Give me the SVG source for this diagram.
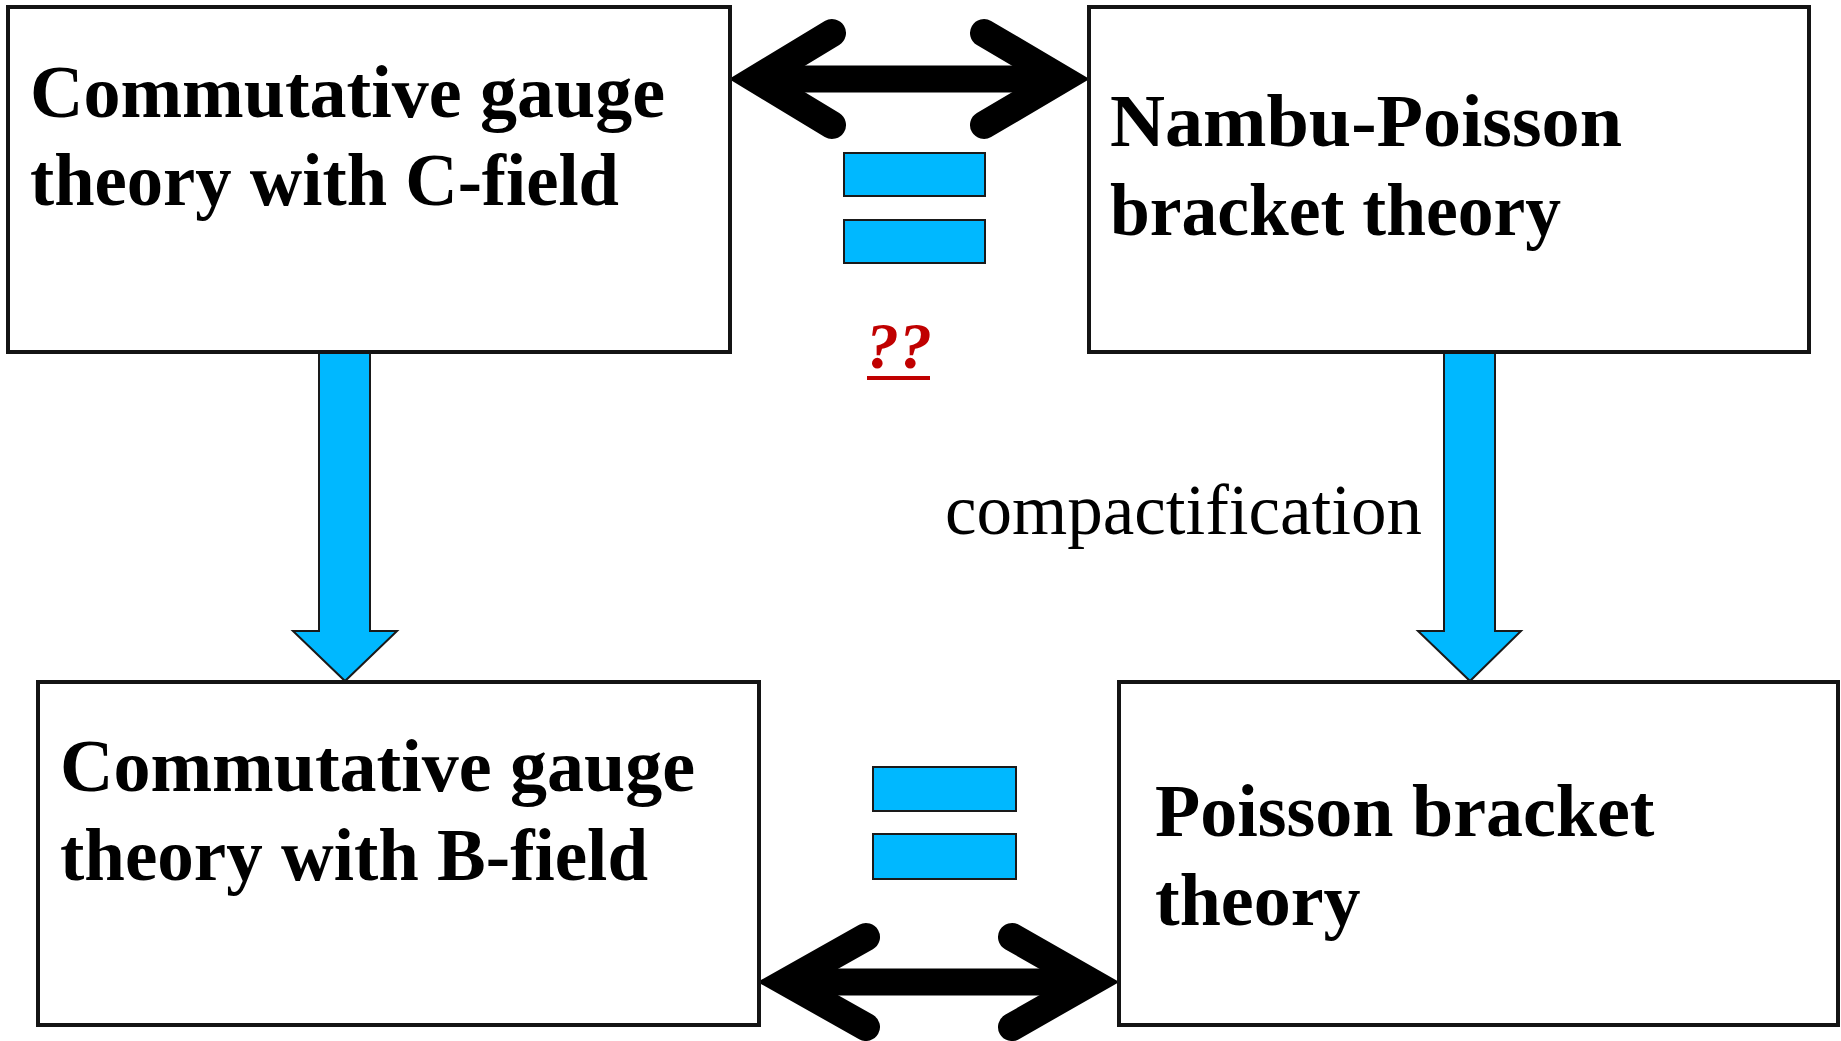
<svg xmlns="http://www.w3.org/2000/svg" width="1841" height="1041" viewBox="0 0 1841 1041">
  <style>
    .box { fill: #ffffff; stroke: #141414; stroke-width: 4; }
    .title { font-family: "Liberation Serif", "Times New Roman", serif; font-weight: bold; font-size: 74px; fill: #000000; }
    .label { font-family: "Liberation Serif", "Times New Roman", serif; font-size: 71px; fill: #000000; }
    .q { font-family: "Liberation Serif", "Times New Roman", serif; font-weight: bold; font-style: italic; font-size: 66px; fill: #C00000; }
    .blue { fill: #00B8FF; stroke: #1a1a1a; stroke-width: 2; stroke-linejoin: miter; }
    .shaft { stroke: #000000; stroke-width: 27; fill: none; }
    .chev { stroke: #000000; stroke-width: 28; fill: none; stroke-linecap: round; stroke-linejoin: miter; stroke-miterlimit: 10; }
  </style>

  <rect width="1841" height="1041" fill="#ffffff"/>

  <g id="connectors">
    <!-- top double arrow -->
    <g id="arrow-top">
      <line class="shaft" x1="756" y1="79" x2="1062" y2="79"/>
      <polyline class="chev" points="832,33 756,79 832,125"/>
      <polyline class="chev" points="984,33 1062,79 984,125"/>
    </g>
    <!-- bottom double arrow -->
    <g id="arrow-bottom">
      <line class="shaft" x1="786" y1="982" x2="1091" y2="982"/>
      <polyline class="chev" points="866,937 786,982 866,1027"/>
      <polyline class="chev" points="1012,937 1091,982 1012,1027"/>
    </g>
    <!-- blue block arrows -->
    <polygon id="arrow-left-down" class="blue" points="319,352 370,352 370,631 397,631 345,681 293,631 319,631"/>
    <polygon id="arrow-right-down" class="blue" points="1444,352 1495,352 1495,631 1521,631 1470,681 1418,631 1444,631"/>
  </g>

  <g id="node-c-field">
    <rect class="box" x="8" y="7" width="722" height="345"/>
    <text class="title" x="30" y="117">Commutative gauge</text>
    <text class="title" x="30" y="205" textLength="589" lengthAdjust="spacingAndGlyphs">theory with C-field</text>
  </g>

  <g id="node-nambu-poisson">
    <rect class="box" x="1089" y="7" width="720" height="345"/>
    <text class="title" x="1110" y="146" textLength="512" lengthAdjust="spacingAndGlyphs">Nambu-Poisson</text>
    <text class="title" x="1110" y="235" textLength="451" lengthAdjust="spacingAndGlyphs">bracket theory</text>
  </g>

  <g id="node-b-field">
    <rect class="box" x="38" y="682" width="721" height="343"/>
    <text class="title" x="60" y="791">Commutative gauge</text>
    <text class="title" x="60" y="880" textLength="588" lengthAdjust="spacingAndGlyphs">theory with B-field</text>
  </g>

  <g id="node-poisson">
    <rect class="box" x="1119" y="682" width="719" height="343"/>
    <text class="title" x="1155" y="836">Poisson bracket</text>
    <text class="title" x="1155" y="925">theory</text>
  </g>

  <g id="equals-top">
    <rect class="blue" x="844" y="153" width="141" height="43"/>
    <rect class="blue" x="844" y="220" width="141" height="43"/>
  </g>

  <g id="equals-bottom">
    <rect class="blue" x="873" y="767" width="143" height="44"/>
    <rect class="blue" x="873" y="834" width="143" height="45"/>
  </g>

  <g id="question-label">
    <text class="q" x="866" y="368">??</text>
    <rect x="867" y="376" width="63" height="4" fill="#C00000"/>
  </g>

  <text id="compactification-label" class="label" x="945" y="534">compactification</text>
</svg>
